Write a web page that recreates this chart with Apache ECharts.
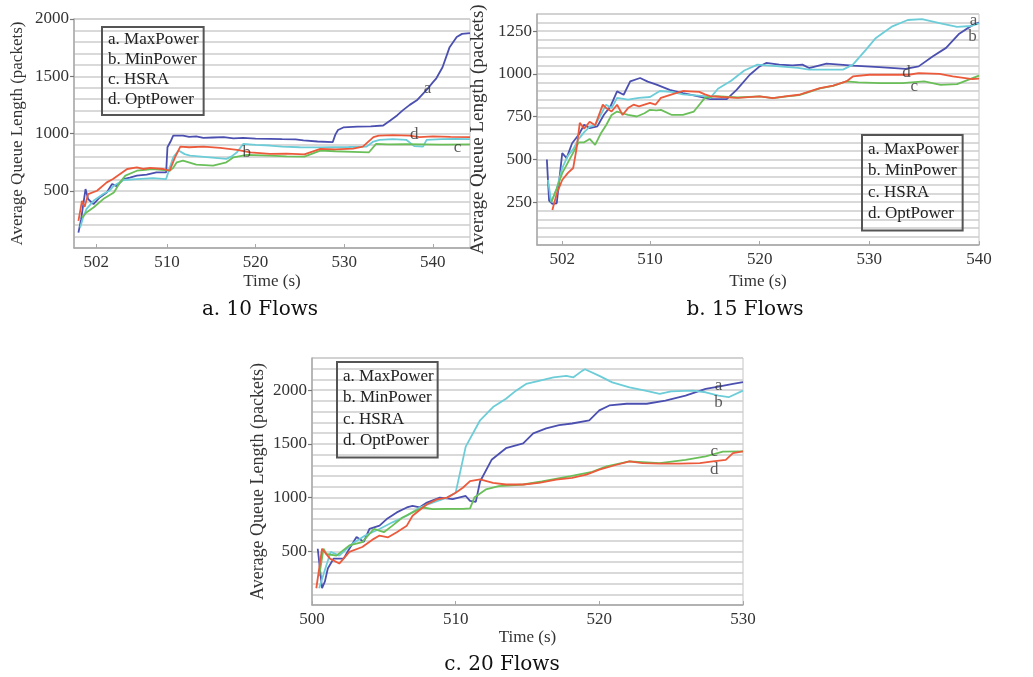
<!DOCTYPE html>
<html>
<head>
<meta charset="utf-8">
<script src="https://cdn.jsdelivr.net/npm/echarts@6/dist/echarts.min.js"></script>
<style>
  html, body { margin: 0; padding: 0; background: #ffffff; }
  #chart { width: 1033px; height: 677px; }
</style>
</head>
<body>
<div id="chart"></div>
<script>
// Average queue length (packets) over time (s) for four power-control schemes.
const seriesNames = ['a. MaxPower', 'b. MinPower', 'c. HSRA', 'd. OptPower'];
const seriesColors = ['#4b50b0', '#6ccdd8', '#6abf58', '#ec5a3c'];
const captions = ['a. 10 Flows', 'b. 15 Flows', 'c. 20 Flows'];

// ---- 10 flows ----
const maxPower10 = [[500.0,134],[500.3,250],[500.8,515],[501.1,427],[501.7,383],[502.4,441],[503.2,485],[503.8,559],[504.3,540],[505.1,602],[505.8,615],[506.6,632],[507.7,640],[508.8,660],[509.9,660],[510.05,880],[510.4,930],[510.7,982],[511.8,982],[512.5,970],[513.3,975],[514.1,962],[515.2,965],[516.4,968],[517.5,958],[518.6,962],[520,955],[521.6,953],[523,950],[524.5,948],[525.4,940],[527,930],[528.7,924],[529.0,990],[529.3,1030],[529.9,1053],[531.5,1060],[533,1062],[534.4,1070],[535.2,1114],[536.0,1160],[536.6,1202],[537.4,1250],[538.2,1290],[539.3,1380],[540.0,1447],[540.4,1482],[541.1,1579],[541.9,1754],[542.7,1842],[543.3,1870],[544.2,1877]];
const minPower10 = [[500.2,180],[500.5,260],[500.9,340],[501.7,412],[502.8,471],[503.5,500],[504,544],[505.1,594],[506.6,602],[508.4,611],[509.9,602],[510.3,700],[510.7,792],[511.3,851],[512,820],[512.6,807],[514.8,792],[516.7,778],[517.3,800],[517.9,836],[518.6,909],[520,900],[521.6,895],[523,885],[525,880],[527,878],[528.7,880],[530.5,882],[532.5,885],[533.3,930],[534,945],[535.5,950],[537,945],[537.9,890],[538.9,886],[539.3,945],[541,950],[542.5,952],[544.2,950]];
const hsra10 = [[500.4,265],[500.9,310],[501.7,354],[502.8,427],[504,485],[504.7,573],[505.3,632],[506.6,675],[508.4,690],[510.3,675],[510.7,700],[511.1,748],[511.8,763],[513.3,728],[515.2,719],[516.7,748],[517.5,792],[519,813],[521.6,807],[523.5,800],[525.5,798],[527.3,851],[529,845],[531,840],[532.8,836],[533.6,909],[535,905],[537,906],[539,905],[541,903],[544.2,905]];
const optPower10 = [[500.0,237],[500.4,412],[500.7,360],[501.1,471],[502.1,500],[503.2,573],[503.9,602],[504.7,646],[505.5,690],[506.6,704],[507.3,690],[508.1,700],[509.6,690],[510.3,675],[510.9,792],[511.5,886],[512.5,880],[514.1,886],[516,874],[517.9,857],[519.4,836],[521.6,822],[523.5,825],[525.5,818],[527.3,865],[529,862],[531,868],[532.1,886],[533.3,968],[533.9,982],[535.5,985],[537.4,982],[538.5,968],[540,975],[542,970],[544.2,968]];

// ---- 15 flows ----
const maxPower15 = [[500.6,500],[500.8,260],[501.1,240],[501.5,244],[502,537],[502.4,508],[502.9,595],[503.5,644],[504,703],[504.5,683],[505.2,693],[505.8,761],[506.4,810],[507,898],[507.6,878],[508.2,956],[509.1,976],[509.8,955],[510.6,937],[511.8,907],[513,888],[514.2,872],[515.5,853],[517,853],[517.9,907],[519.1,995],[520,1044],[520.6,1064],[521.8,1054],[523,1050],[523.9,1054],[524.5,1034],[526.1,1060],[528.5,1048],[530.9,1040],[533.3,1029],[534.5,1044],[535.8,1103],[537,1152],[538.2,1235],[539.4,1285],[540,1300]];
const minPower15 = [[500.7,380],[501,250],[501.5,330],[502,450],[502.5,520],[503,560],[503.5,620],[504,660],[504.5,690],[505,700],[505.5,760],[506,820],[506.5,800],[507,860],[508,850],[509,860],[510,865],[510.9,900],[512,895],[513,880],[515,870],[515.5,860],[516.2,913],[517.4,960],[518.6,1020],[519.8,1054],[521.8,1044],[523.5,1035],[524.5,1025],[527.6,1025],[528.5,1054],[529.7,1142],[530.6,1210],[532.1,1278],[533.5,1315],[534.8,1320],[536.5,1295],[538,1275],[539.3,1280],[540,1295]];
const hsra15 = [[501,250],[501.5,330],[502,420],[503,540],[503.5,600],[504,600],[504.5,620],[505,585],[505.5,650],[506,700],[506.5,760],[507,780],[507.5,770],[508,760],[508.8,751],[509.5,770],[510,790],[510.6,787],[511,790],[512,760],[513,760],[514,780],[514.5,820],[515,860],[516,870],[518,862],[520,868],[521.2,858],[522.5,868],[523.6,876],[524.2,888],[525.5,915],[526.7,930],[527.9,956],[529,950],[531,946],[533,946],[535,956],[536.5,936],[538,940],[539,965],[540,990]];
const optPower15 = [[501.1,205],[501.5,300],[502,380],[502.5,420],[503,450],[503.3,560],[503.6,714],[504,680],[504.5,720],[505,700],[505.7,820],[506,800],[506.5,780],[507,820],[507.5,760],[508,800],[508.5,820],[509,810],[510,830],[510.5,820],[511,860],[512,880],[513,900],[513.6,898],[514.5,895],[515,880],[515.5,870],[516.5,865],[518,860],[520,868],[521.2,858],[522.5,870],[523.6,878],[524.2,890],[525.5,917],[526.7,931],[527.9,956],[528.5,985],[530,995],[533.6,995],[534.5,1005],[536.4,1000],[537.6,985],[539.4,970],[540,972]];

// ---- 20 flows ----
const maxPower20 = [[500.4,524],[500.7,156],[500.9,220],[501.1,340],[501.5,432],[502.2,432],[502.6,524],[503.1,634],[503.6,588],[504,708],[504.7,739],[505.2,800],[505.9,862],[506.6,908],[507,923],[507.5,910],[508,954],[508.9,1000],[509.8,985],[510.7,1015],[511,969],[511.4,960],[511.7,1150],[512.5,1352],[513.5,1460],[514.7,1506],[515.4,1598],[516.3,1644],[517.2,1674],[518.1,1690],[519.3,1720],[520,1812],[520.7,1858],[521.9,1874],[523.3,1874],[524.6,1904],[526,1950],[527.4,2012],[528.3,2033],[529.3,2058],[530,2075]];
const minPower20 = [[500.5,156],[501,370],[501.3,494],[501.9,460],[502.8,570],[503.7,647],[504.7,708],[505.6,770],[506.6,831],[507.5,908],[508.4,954],[509.4,1000],[510,1046],[510.7,1475],[511.7,1720],[512.6,1843],[513.5,1920],[514.2,1996],[514.9,2058],[515.8,2088],[516.8,2119],[517.7,2134],[518.2,2120],[518.8,2180],[519,2195],[520,2134],[520.9,2073],[522.1,2027],[523.2,1996],[524.2,1966],[525,1990],[526.5,1996],[527.4,1981],[528.3,1950],[529,1935],[530,1996]];
const hsra20 = [[500.5,270],[500.8,524],[501,475],[501.7,460],[502.6,555],[503.5,585],[504.3,708],[505,678],[505.6,739],[506.3,815],[507,862],[507.7,908],[508.4,892],[509.5,895],[510.5,895],[511,900],[511.3,1000],[512.1,1076],[513,1107],[514.7,1122],[516,1150],[518,1200],[519.5,1240],[520.5,1291],[522.1,1337],[524.2,1322],[526,1352],[527.4,1383],[528.6,1429],[530,1430]];
const optPower20 = [[500.3,156],[500.7,524],[501.25,432],[501.9,386],[502.6,494],[503.5,540],[504.3,616],[504.7,647],[505.3,630],[505.9,678],[506.6,739],[507,831],[508,938],[508.7,984],[509.4,1000],[510,1046],[510.5,1092],[511,1153],[511.7,1169],[512.6,1138],[513.5,1122],[514.7,1122],[515.8,1138],[517,1168],[518.1,1184],[519.1,1214],[520,1260],[521.2,1306],[522.1,1337],[523,1322],[524.2,1316],[525.6,1316],[527,1322],[527.9,1337],[528.8,1352],[529.3,1414],[530,1430]];

// Curve tags placed next to the lines: [time, queue length, tag]
const tags10 = [[539.4,1395,'a'],[519.0,833,'b'],[542.8,877,'c'],[537.9,990,'d']];
const tags15 = [[539.5,1310,'a'],[539.4,1218,'b'],[534.1,925,'c'],[533.4,1010,'d']];
const tags20 = [[528.3,2045,'a'],[528.3,1886,'b'],[528.0,1426,'c'],[528.0,1262,'d']];

// Axis ticks
const xTicks10 = [502, 510, 520, 530, 540];
const xTicks15 = [502, 510, 520, 530, 540];
const xTicks20 = [500, 510, 520, 530];
const yTicks10 = [500, 1000, 1500, 2000];
const yTicks15 = [250, 500, 750, 1000, 1250];
const yTicks20 = [500, 1000, 1500, 2000];

const FONT = 'Liberation Serif';
const panels = [
  { grid: { left: 74, top: 19, width: 396, height: 229 }, x: [499.5, 544.2], xTicks: xTicks10,
    y: [0, 2000, 100], yTicks: yTicks10, yNameSize: 17, yNameGap: 48, xNameGap: 25,
    lines: [maxPower10, minPower10, hsra10, optPower10], tags: tags10,
    legend: { left: 102, top: 27, itemGap: 3, padding: [4, 5, 7, 1] },
    caption: [260, 310] },
  { grid: { left: 537, top: 14, width: 442, height: 231 }, x: [499.7, 540], xTicks: xTicks15,
    y: [0, 1350, 50], yTicks: yTicks15, yNameSize: 19, yNameGap: 49, xNameGap: 28,
    lines: [maxPower15, minPower15, hsra15, optPower15], tags: tags15,
    legend: { left: 862, top: 135, itemGap: 4.5, padding: [6, 4, 8, 1] },
    caption: [745, 310] },
  { grid: { left: 312, top: 358, width: 431, height: 247 }, x: [500, 530], xTicks: xTicks20,
    y: [0, 2300, 100], yTicks: yTicks20, yNameSize: 18, yNameGap: 45, xNameGap: 22,
    lines: [maxPower20, minPower20, hsra20, optPower20], tags: tags20,
    legend: { left: 337, top: 362, itemGap: 4.5, padding: [6, 4, 8, 1] },
    caption: [502, 665] }
];

const option = {
  backgroundColor: '#ffffff',
  animation: false,
  grid: [], xAxis: [], yAxis: [], legend: [], series: [], graphic: []
};

const plainNumber = (v) => String(v);

panels.forEach((p, i) => {
  option.grid.push(Object.assign({ show: true, borderColor: '#c4c4c4', borderWidth: 1, backgroundColor: 'transparent' }, p.grid));
  option.xAxis.push({
    type: 'value', gridIndex: i, min: p.x[0], max: p.x[1],
    name: 'Time (s)', nameLocation: 'middle', nameGap: p.xNameGap,
    nameTextStyle: { fontFamily: FONT, fontSize: 17, color: '#333' },
    axisLine: { show: true, onZero: false, lineStyle: { color: '#a8a8a8', width: 1.5 } },
    axisTick: { show: true, customValues: p.xTicks, length: 4, inside: true, lineStyle: { color: '#a8a8a8' } },
    axisLabel: { customValues: p.xTicks, formatter: plainNumber, fontFamily: FONT, fontSize: 17, color: '#333', margin: 6 },
    splitLine: { show: false }
  });
  // Value axis that carries the fine horizontal grid (one line per interval).
  option.yAxis.push({
    type: 'value', gridIndex: i, min: p.y[0], max: p.y[1], interval: p.y[2], position: 'left',
    axisLine: { show: true, lineStyle: { color: '#a8a8a8', width: 1.5 } },
    axisTick: { show: false }, axisLabel: { show: false },
    splitLine: { show: true, lineStyle: { color: '#cccccc', width: 1.6 } }
  });
  // Companion axis on the same side: tick marks, labels and the axis title.
  option.yAxis.push({
    type: 'value', gridIndex: i, min: p.y[0], max: p.y[1], position: 'left',
    name: 'Average Queue Length (packets)', nameLocation: 'middle', nameGap: p.yNameGap, nameRotate: 90,
    nameTextStyle: { fontFamily: FONT, fontSize: p.yNameSize, color: '#333' },
    axisLine: { show: false },
    axisTick: { show: true, customValues: p.yTicks, length: 4, lineStyle: { color: '#777', width: 1.2 } },
    axisLabel: { customValues: p.yTicks, formatter: plainNumber, fontFamily: FONT, fontSize: 17, color: '#333', margin: 5 },
    splitLine: { show: false }
  });
  option.legend.push({
    orient: 'vertical', left: p.legend.left, top: p.legend.top,
    data: seriesNames, icon: 'none', itemWidth: 0, itemHeight: 10,
    itemGap: p.legend.itemGap, padding: p.legend.padding, selectedMode: false,
    borderColor: '#555555', borderWidth: 2, borderRadius: 0,
    textStyle: { fontFamily: FONT, fontSize: 17, color: '#222' }
  });
  p.lines.forEach((data, k) => {
    option.series.push({
      name: seriesNames[k], type: 'line', xAxisIndex: i, yAxisIndex: 2 * i,
      data: data, showSymbol: false, symbol: 'none', smooth: false,
      color: seriesColors[k], lineStyle: { width: 1.8, color: seriesColors[k] },
      silent: true, z: 3
    });
  });
  option.series.push({
    name: 'tags' + i, type: 'scatter', xAxisIndex: i, yAxisIndex: 2 * i,
    data: p.tags, symbolSize: 1, itemStyle: { color: 'rgba(0,0,0,0)' }, silent: true, z: 5,
    label: { show: true, position: 'inside', formatter: (d) => d.data[2],
             fontFamily: FONT, fontSize: 17, color: '#333' }
  });
  option.graphic.push({
    type: 'text', x: p.caption[0], y: p.caption[1],
    style: { text: captions[i], align: 'center', verticalAlign: 'middle',
             font: '20px "DejaVu Serif"', fill: '#111' }
  });
});

const chart = echarts.init(document.getElementById('chart'), null, { renderer: 'canvas' });
chart.setOption(option);
</script>
</body>
</html>
